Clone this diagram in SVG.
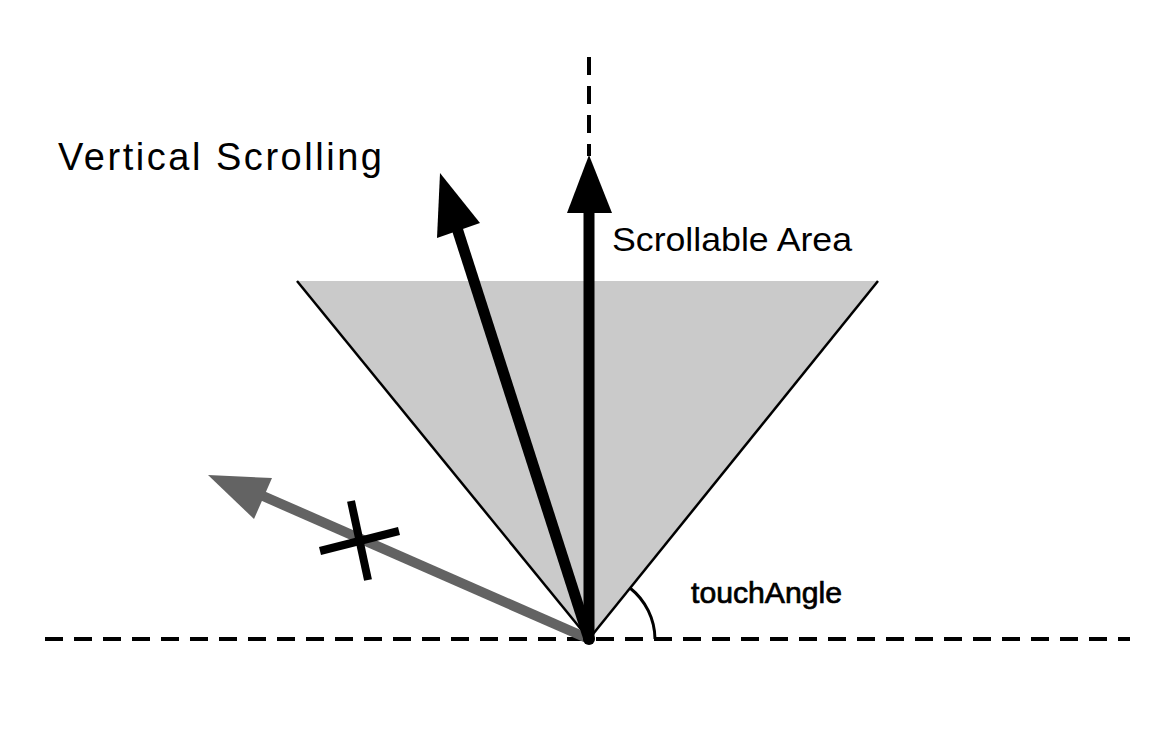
<svg xmlns="http://www.w3.org/2000/svg" width="1158" height="746" viewBox="0 0 1158 746">
<style>
.dash{stroke:#000;stroke-width:4;stroke-dasharray:18 11;fill:none}
.lbl{font-family:"Liberation Sans",Arial,sans-serif;fill:#000}
</style>
<rect width="1158" height="746" fill="#fff"/>
<g id="area">
<polygon points="297,281 878,281 589,639" fill="#cacaca"/>
<line x1="297" y1="281" x2="589" y2="639" stroke="#000" stroke-width="2.5"/>
<line x1="878" y1="281" x2="589" y2="639" stroke="#000" stroke-width="2.5"/>
</g>
<g id="axes">
<line class="dash" x1="45" y1="639" x2="1130" y2="639"/>
<line class="dash" x1="589" y1="57" x2="589" y2="156"/>
<path d="M630,588 A66,66 0 0 1 655,639" fill="none" stroke="#000" stroke-width="3"/>
</g>
<g id="connectors">
<line x1="589" y1="639" x2="263" y2="496" stroke="#636363" stroke-width="10"/>
<polygon points="208,475 272,478 254,519" fill="#636363"/>
<line x1="589" y1="639" x2="455" y2="222" stroke="#000" stroke-width="11"/>
<polygon points="440,173 437,238 480,223" fill="#000"/>
<line x1="589" y1="639" x2="589" y2="205" stroke="#000" stroke-width="11"/>
<polygon points="589,155 567,213 612,213" fill="#000"/>
<circle cx="589" cy="639" r="6" fill="#000"/>
<line x1="320" y1="551" x2="399" y2="531" stroke="#000" stroke-width="8"/>
<line x1="351" y1="501" x2="368" y2="580" stroke="#000" stroke-width="8"/>
</g>
<g id="title"><text class="lbl" x="58" y="170" font-size="38" textLength="324" lengthAdjust="spacing">Vertical Scrolling</text></g>
<g id="scrollable-label"><text class="lbl" x="612" y="251" font-size="34" textLength="240" lengthAdjust="spacingAndGlyphs">Scrollable Area</text></g>
<g id="angle-label"><text class="lbl" x="691" y="603" font-size="30" stroke="#000" stroke-width="0.7" textLength="151" lengthAdjust="spacingAndGlyphs">touchAngle</text></g>
</svg>
